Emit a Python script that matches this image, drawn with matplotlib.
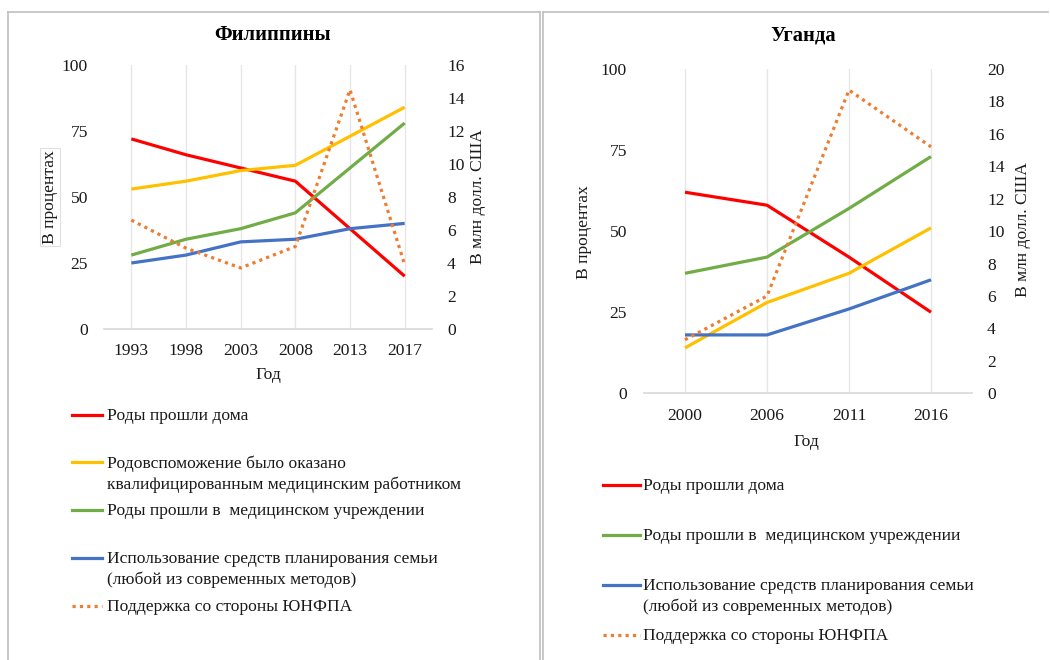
import matplotlib
matplotlib.use("Agg")
import matplotlib.pyplot as plt
from matplotlib.lines import Line2D

plt.rcParams['font.family'] = ['Liberation Serif', 'DejaVu Serif']

# ---------------- data ----------------
ph_years = ["1993", "1998", "2003", "2008", "2013", "2017"]
ph_home = [72, 66, 61, 56, 38, 20]
ph_skilled = [53, 56, 60, 62, 73, 84]
ph_facility = [28, 34, 38, 44, 61, 78]
ph_fp = [25, 28, 33, 34, 38, 40]
ph_unfpa = [6.6, 4.9, 3.7, 5.0, 14.5, 3.9]

ug_years = ["2000", "2006", "2011", "2016"]
ug_home = [62, 58, 42, 25]
ug_skilled = [14, 28, 37, 51]
ug_facility = [37, 42, 57, 73]
ug_fp = [18, 18, 26, 35]
ug_unfpa = [3.3, 6.0, 18.7, 15.2]

lbl_home = "Роды прошли дома"
lbl_skilled = "Родовспоможение было оказано\nквалифицированным медицинским работником"
lbl_facility = "Роды прошли в  медицинском учреждении"
lbl_fp = "Использование средств планирования семьи\n(любой из современных методов)"
lbl_unfpa = "Поддержка со стороны ЮНФПА"

C_RED = "#FF0000"
C_YEL = "#FFC000"
C_GRN = "#70AD47"
C_BLU = "#4472C4"
C_ORG = "#ED7D31"

W, H = 1050, 660
fig = plt.figure(figsize=(W / 100, H / 100), dpi=100)


def fx(px):
    return px / W


def fy(py):
    return 1 - py / H


def box(x0, x1, y0, y1):
    return [fx(x0), fy(y1), fx(x1) - fx(x0), fy(y0) - fy(y1)]


def pt(px):
    return px * 0.72


# panel borders
border = "#BFBFBF"
fig.add_artist(Line2D([fx(8), fx(540)], [fy(12), fy(12)], color=border, lw=1.2))
fig.add_artist(Line2D([fx(8), fx(8)], [fy(12), fy(660)], color=border, lw=1.2))
fig.add_artist(Line2D([fx(540), fx(540)], [fy(12), fy(660)], color=border, lw=1.2))
fig.add_artist(Line2D([fx(543), fx(1048)], [fy(12), fy(12)], color=border, lw=1.2))
fig.add_artist(Line2D([fx(543), fx(543)], [fy(12), fy(660)], color=border, lw=1.2))

TICK_FS = 12.6
LW = 2.3
TXT = "#1a1a1a"


def make_panel(rect, years, home, skilled, facility, fp, unfpa, rmax, rstep,
               lpad, rpad, bpad):
    ax = fig.add_axes(rect)
    n = len(years)
    x = list(range(n))
    ax.set_xlim(-0.5, n - 0.5)
    ax.set_ylim(0, 100)
    ax.set_yticks([0, 25, 50, 75, 100])
    ax.set_xticks(x)
    ax.set_xticklabels(years)
    for s in ["left", "right", "top"]:
        ax.spines[s].set_visible(False)
    ax.spines["bottom"].set_color("#D9D9D9")
    ax.spines["bottom"].set_linewidth(1.2)
    ax.tick_params(axis="both", length=0, labelsize=TICK_FS, colors=TXT)
    ax.tick_params(axis="y", pad=pt(lpad))
    ax.tick_params(axis="x", pad=pt(bpad))
    for xi in x:
        ax.axvline(xi, color="#E6E6E6", lw=1.0, zorder=0)
    ax.plot(x, home, color=C_RED, lw=LW, solid_capstyle="butt", zorder=3)
    ax.plot(x, skilled, color=C_YEL, lw=LW, solid_capstyle="butt", zorder=3)
    ax.plot(x, facility, color=C_GRN, lw=LW, solid_capstyle="butt", zorder=3)
    ax.plot(x, fp, color=C_BLU, lw=LW, solid_capstyle="butt", zorder=3)
    ax2 = ax.twinx()
    ax2.set_ylim(0, rmax)
    ax2.set_yticks(list(range(0, rmax + 1, rstep)))
    for s in ["left", "right", "top", "bottom"]:
        ax2.spines[s].set_visible(False)
    ax2.tick_params(axis="y", length=0, labelsize=TICK_FS, pad=pt(rpad), colors=TXT)
    ax2.plot(x, unfpa, color=C_ORG, lw=LW, linestyle=(0, (1, 1.3)), zorder=2)
    return ax, ax2


# ---------- Philippines ----------
make_panel(box(104, 432, 65, 329), ph_years, ph_home, ph_skilled, ph_facility,
           ph_fp, ph_unfpa, 16, 2, 16, 15, 14)
fig.text(fx(273), fy(35), "Филиппины", fontsize=14.9, fontweight="bold",
         ha="center", va="center", color="black")
fig.text(fx(50), fy(197), "В процентах", fontsize=TICK_FS, rotation=90,
         ha="center", va="center", color=TXT,
         bbox=dict(boxstyle="square,pad=0.12", fc="white", ec="#E0E0E0", lw=0.8))
fig.text(fx(478), fy(197), "В млн долл. США", fontsize=TICK_FS, rotation=90,
         ha="center", va="center", color=TXT)
fig.text(fx(268), fy(375), "Год", fontsize=TICK_FS, ha="center", va="center", color=TXT)

# ---------- Uganda ----------
make_panel(box(644, 972, 69, 393.3), ug_years, ug_home, ug_skilled, ug_facility,
           ug_fp, ug_unfpa, 20, 2, 17, 15, 15)
fig.text(fx(803), fy(36), "Уганда", fontsize=14.9, fontweight="bold",
         ha="center", va="center", color="black")
fig.text(fx(584), fy(232), "В процентах", fontsize=TICK_FS, rotation=90,
         ha="center", va="center", color=TXT)
fig.text(fx(1023), fy(230), "В млн долл. США", fontsize=TICK_FS, rotation=90,
         ha="center", va="center", color=TXT)
fig.text(fx(806), fy(442), "Год", fontsize=TICK_FS, ha="center", va="center", color=TXT)

LEG_FS = 12.6


def legend_entry(x0, x1, xt, y, color, label, dotted=False):
    ls = (0, (1, 1.3)) if dotted else "-"
    fig.add_artist(Line2D([fx(x0), fx(x1)], [fy(y), fy(y)], color=color,
                          lw=LW, linestyle=ls))
    fig.text(fx(xt), fy(y - 7), label, fontsize=LEG_FS, ha="left", va="top",
             linespacing=1.38, color=TXT)


# left legend
legend_entry(72, 102, 107, 415, C_RED, lbl_home)
legend_entry(72, 102, 107, 462, C_YEL, lbl_skilled)
legend_entry(72, 102, 107, 510, C_GRN, lbl_facility)
legend_entry(72, 102, 107, 558, C_BLU, lbl_fp)
legend_entry(72, 102, 107, 606, C_ORG, lbl_unfpa, dotted=True)

# right legend
legend_entry(603, 640, 643, 485, C_RED, lbl_home)
legend_entry(603, 640, 643, 535, C_GRN, lbl_facility)
legend_entry(603, 640, 643, 585, C_BLU, lbl_fp)
legend_entry(603, 640, 643, 635, C_ORG, lbl_unfpa, dotted=True)

fig.savefig("out.png", dpi=100, facecolor="white")
